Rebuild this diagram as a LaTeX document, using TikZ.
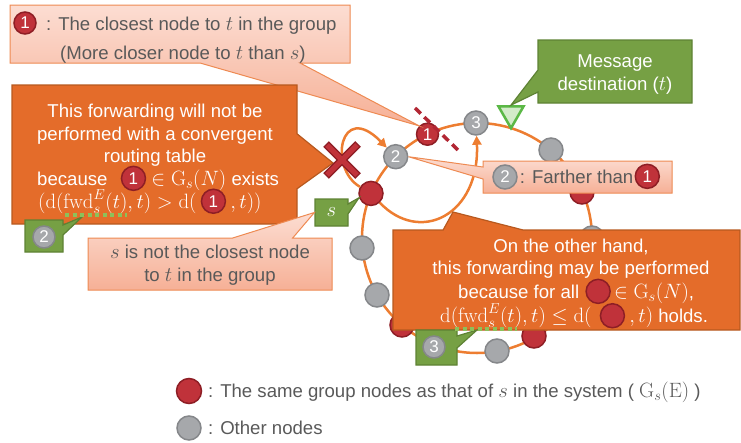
\documentclass[tikz,border=0pt]{standalone}
\usepackage[no-math]{fontspec}
\setmainfont{Liberation Sans}
\usepackage{amsmath,amssymb}
\usepackage{tikz}
\usetikzlibrary{arrows.meta, positioning, calc, shapes.callouts, shapes.geometric}
\definecolor{ringorange}{HTML}{ED7D31}
\definecolor{boxorange}{HTML}{E46C2A}
\definecolor{boxorangedark}{HTML}{B7591F}
\definecolor{pinktop}{HTML}{FCDDD2}
\definecolor{pinkbot}{HTML}{F6B096}
\definecolor{pinkline}{HTML}{EE8A52}
\definecolor{boxgreen}{HTML}{76A044}
\definecolor{boxgreendark}{HTML}{5E8234}
\definecolor{dotred}{HTML}{C0323A}
\definecolor{dotreddark}{HTML}{8E1E25}
\definecolor{dotgray}{HTML}{A6A8AB}
\definecolor{dotgraydark}{HTML}{85878A}
\definecolor{textgray}{HTML}{595959}
\definecolor{cutred}{HTML}{B22734}
\definecolor{markgreen}{HTML}{8DC05A}
\definecolor{trifill}{HTML}{D3EBC9}
\definecolor{triline}{HTML}{5BB846}
\newcommand{\Gs}{\mathrm{G}_s}
\newcommand{\fwd}{\mathrm{fwd}}
\newcommand{\dd}{\mathrm{d}}
\newcommand{\mth}[1]{{\fontsize{20.5}{22}\selectfont$#1$}}

\begin{document}
\begin{tikzpicture}[
    x=1pt, y=-1pt,
    txt/.style={inner sep=0pt, font=\fontsize{18.6}{22}\selectfont},
    wtxt/.style={txt, text=white},
    gtxt/.style={txt, text=textgray},
    dot/.style={circle, line width=1.5pt, minimum size=24pt, inner sep=0pt,
                text=white, font=\fontsize{17}{17}\selectfont},
    rdot/.style={dot, fill=dotred, draw=dotreddark},
    gdot/.style={dot, fill=dotgray, draw=dotgraydark},
    dest/.style={regular polygon, regular polygon sides=3, shape border rotate=180,
                 minimum size=29pt, inner sep=0pt, fill=trifill, draw=triline, line width=2.5pt},
    route/.style={draw=ringorange, line width=2.5pt},
    cutline/.style={draw=cutred, line width=3.5pt, dash pattern=on 8pt off 5pt},
    fwdmark/.style={draw=markgreen, line width=4pt, dash pattern=on 4pt off 3.5pt},
    pinkbox/.style={rectangle callout, draw=pinkline, line width=1pt,
                    top color=pinktop, bottom color=pinkbot, inner sep=0pt},
    orangebox/.style={rectangle callout, fill=boxorange, draw=boxorangedark,
                      line width=1.2pt, inner sep=0pt},
    greenbox/.style={rectangle callout, fill=boxgreen, draw=boxgreendark,
                     line width=1.2pt, inner sep=0pt},
    >={Triangle[length=9pt,width=9pt]}
]
\useasboundingbox (0,0) rectangle (741,442);
% ============== ring of nodes ==================
\coordinate (ctr) at (477,238);
\draw[route] (ctr) circle[radius=115pt];
\node[rdot, minimum size=22pt] (n1) at (427.5,134.2) {1};
\node[gdot] (n3) at (476,123) {3};
\node[dest] (t) at (511,113.6) {};
\node[gdot] (o1) at (551,150) {};
\node[rdot] (r1) at (582,192) {};
\node[gdot] (o2) at (592,238) {};
\node[rdot] (r2) at (534,336) {};
\node[gdot] (o3) at (497,351) {};
\node[rdot] (r3) at (402,325) {};
\node[gdot] (o4) at (377,295) {};
\node[gdot] (o5) at (362,248) {};
\node[rdot] (s) at (371,193.4) {};
\node[gdot] (n2) at (395.7,156.7) {2};
% forwarding from s
\draw[route,->] (s) .. controls (328,168) and (340,100) .. (n2);
\draw[route,->] (s) .. controls (420,245) and (480,215) .. (n3);
\coordinate (cutA) at (415,108);
\coordinate (cutB) at (460,152);
\draw[cutline] (cutA) -- (cutB);
% ============== callouts ==================
\node[pinkbox, minimum width=340pt, minimum height=58pt,
      callout absolute pointer={(n1.north west)}, callout pointer width=100pt] (boxA) at (180,34) {};
\node[rdot, minimum size=22pt] (a1) at (25,23) {1};
\node[gtxt, anchor=base west] (aline1) at (46,30) {: The closest node to \mth{t} in the group};
\node[gtxt, anchor=base west] (aline2) at (60,59) {(More closer node to \mth{t} than \mth{s})};

\node[pinkbox, minimum width=189pt, minimum height=32pt,
      callout absolute pointer={(n2.east)}, callout pointer width=12pt] (boxF) at (577.5,177) {};
\node[gdot] (f2) at (505,177) {2};
\node[gtxt, anchor=base west] (ftxt) at ([xshift=2pt]f2.east |- 0,183) {: Farther than};
\node[rdot, right=1pt of ftxt] (f1) {1};

\node[greenbox, minimum width=154pt, minimum height=63pt,
      callout absolute pointer={(t.north)}, callout pointer width=22pt] (boxE) at (615,71.5) {};
\node[wtxt, anchor=base] (etxt1) at (615,67) {Message};
\node[wtxt, anchor=base] (etxt2) at (615,90) {destination (\mth{t})};

% not performed
\coordinate (xmark) at (342,160);
\coordinate (xtip) at (333,163);
\node[orangebox, minimum width=285pt, minimum height=139pt,
      callout absolute pointer={(xtip)}, callout pointer width=55pt] (boxB) at (154.5,154.5) {};
\node[wtxt, anchor=base] (b1) at (155,117) {This forwarding will not be};
\node[wtxt, anchor=base] (b2) at (155,140) {performed with a convergent};
\node[wtxt, anchor=base] (b3) at (155,162) {routing table};
\node[wtxt, anchor=base west] (b4a) at (37,185) {because};
\node[rdot, right=13pt of b4a] (b4b) {1};
\node[wtxt, anchor=base west] (b4c) at ([xshift=5pt]b4b.east |- b4a.base) {\mth{\in \Gs(N)} exists};
\node[wtxt, anchor=base west] (b5a) at (38,208) {\mth{(\dd(\fwd_s^E(t),t) > \dd(}};
\node[rdot, right=4pt of b5a] (b5b) {1};
\node[wtxt, anchor=base west] (b5c) at ([xshift=4pt]b5b.east |- b5a.base) {\mth{,t))}};
\draw[line width=8pt, dotreddark]
  ($(xmark)+(-16,-16)$) -- ($(xmark)+(16,16)$) ($(xmark)+(-16,16)$) -- ($(xmark)+(16,-16)$);
\draw[line width=5pt, dotred]
  ($(xmark)+(-15,-15)$) -- ($(xmark)+(15,15)$) ($(xmark)+(-15,15)$) -- ($(xmark)+(15,-15)$);
\coordinate (u2a) at (65,215);
\coordinate (u2b) at (127,215);
\coordinate (u2tip) at (82,217);
\node[greenbox, minimum width=38pt, minimum height=32pt,
      callout absolute pointer={(u2tip)}, callout pointer width=10pt] (box2) at (44,236) {};
\node[gdot, minimum size=22pt] (c2) at (44,237) {2};
\draw[fwdmark] (u2a) -- (u2b);

% s label
\node[greenbox, minimum width=33pt, minimum height=27pt,
      callout absolute pointer={(s.200)}, callout pointer width=10pt,
      text=white, font=\fontsize{18.6}{18}\selectfont] (sbox) at (331.5,212.5) {\mth{s}};
\node[pinkbox, minimum width=244pt, minimum height=52pt,
      callout absolute pointer={(sbox.west)}, callout pointer width=60pt] (boxD) at (210,264) {};
\node[gtxt, anchor=base] (dtxt1) at (210,258) {\mth{s} is not the closest node};
\node[gtxt, anchor=base] (dtxt2) at (210,281) {to \mth{t} in the group};

% may be performed
\coordinate (gtip) at (453,212);
\node[orangebox, minimum width=347pt, minimum height=100pt,
      callout absolute pointer={(gtip)}, callout pointer width=80pt] (boxG) at (566.5,280) {};
\node[wtxt, anchor=base] (gl1) at (571,252) {On the other hand,};
\node[wtxt, anchor=base] (gl2) at (571,274.5) {this forwarding may be performed};
\node[wtxt, anchor=base west] (gl3a) at (458,298) {because for all};
\node[rdot, right=6pt of gl3a] (gl3b) {};
\node[wtxt, anchor=base west] (gl3c) at ([xshift=3pt]gl3b.east |- gl3a.base) {\mth{\in \Gs(N)},};
\node[wtxt, anchor=base west] (gl4a) at (440,322.5) {\mth{\dd(\fwd_s^E(t),t) \le \dd(}};
\node[rdot, right=8pt of gl4a] (gl4b) {};
\node[wtxt, anchor=base west] (gl4c) at ([xshift=4pt]gl4b.east |- gl4a.base) {\mth{,t)} holds.};
\coordinate (u3a) at (455,328.5);
\coordinate (u3b) at (517,328.5);
\coordinate (u3tip) at (477,330);
\node[greenbox, minimum width=41pt, minimum height=35pt,
      callout absolute pointer={(u3tip)}, callout pointer width=12pt] (box3) at (436.5,347.5) {};
\node[gdot, minimum size=22pt] (c3) at (434,347) {3};
\draw[fwdmark] (u3a) -- (u3b);
% ============== legend ==================
\node[rdot, minimum size=25pt] (lred) at (189,391) {};
\node[gtxt, anchor=base west] (ltxt1) at (208,397)
  {: The same group nodes as that of \mth{s} in the system ( \mth{\Gs(\mathrm{E})} )};
\node[gdot] (lgray) at (189,428) {};
\node[gtxt, anchor=base west] (ltxt2) at (208,434) {: Other nodes};
\end{tikzpicture}
\end{document}
